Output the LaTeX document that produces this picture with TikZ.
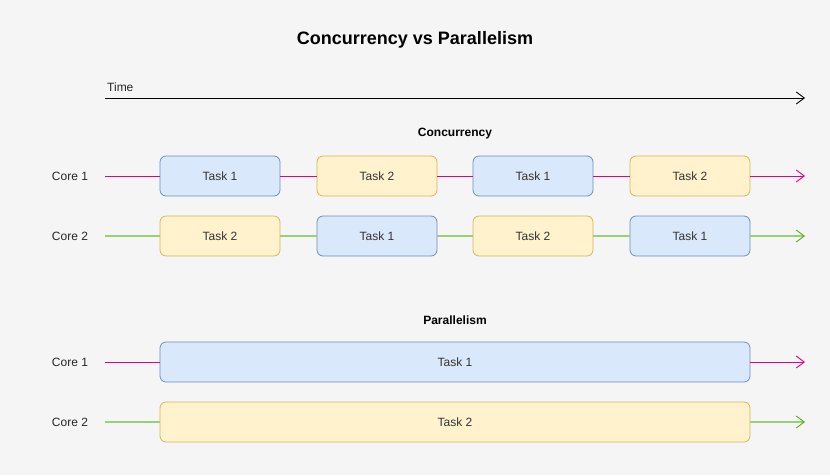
\documentclass[tikz,border=0pt]{standalone}
\usepackage{fontspec}
\setmainfont{Liberation Sans}
\usetikzlibrary{arrows.meta}
\definecolor{bfill}{HTML}{DAE8FC}\definecolor{bdraw}{HTML}{6C8EBF}
\definecolor{yfill}{HTML}{FFF2CC}\definecolor{ydraw}{HTML}{D6B656}
\definecolor{pinkl}{HTML}{E6007A}\definecolor{greenl}{HTML}{97D077}
\definecolor{greend}{HTML}{60A917}
\definecolor{bg}{HTML}{F5F5F5}
\begin{document}
\begin{tikzpicture}[x=1pt,y=-1pt,
 box/.style={rounded corners=6pt,minimum height=40pt,font=\fontsize{12}{14}\selectfont,text=black!80,line width=0.8pt},
 blue/.style={box,fill=bfill,draw=bdraw},
 yel/.style={box,fill=yfill,draw=ydraw},
 lbl/.style={font=\fontsize{12}{14}\selectfont,text=black!85},
 pl/.style={draw=pinkl,line width=0.8pt},
 gl/.style={draw=greenl,line width=1.5pt},
 tip/.style={-{Straight Barb[length=8pt,width=12pt,line width=0.9pt]}},
 gtip/.style={-{Straight Barb[length=8pt,width=12pt,line width=0.9pt,color=greend]}}]
\fill[bg] (0,0) rectangle (830,475);
\useasboundingbox (0,0) rectangle (830,475);
\node[font=\bfseries\fontsize{18}{21}\selectfont] (title) at (415,40) {Concurrency vs Parallelism};
\node[lbl,anchor=west,inner sep=0] (time) at (107,87) {Time};
\coordinate (t0) at (105,98); \coordinate (t1) at (805,98);
\draw[line width=0.8pt,tip] (t0) -- (t1);
\node[font=\bfseries\fontsize{12}{14}\selectfont] (conc) at (455,134) {Concurrency};
\node[font=\bfseries\fontsize{12}{14}\selectfont] (para) at (455,320) {Parallelism};
\node[lbl] (c1) at (70,176) {Core 1};
\node[lbl] (c2) at (70,236) {Core 2};
\coordinate (a0) at (105,176); \coordinate (a5) at (805,176);
\coordinate (b0) at (105,236); \coordinate (b5) at (805,236);
\node[blue,minimum width=120pt] (a1) at (220,176) {Task 1};
\node[yel,minimum width=120pt] (a2) at (377,176) {Task 2};
\node[blue,minimum width=120pt] (a3) at (533,176) {Task 1};
\node[yel,minimum width=120pt] (a4) at (690,176) {Task 2};
\node[yel,minimum width=120pt] (b1) at (220,236) {Task 2};
\node[blue,minimum width=120pt] (b2) at (377,236) {Task 1};
\node[yel,minimum width=120pt] (b3) at (533,236) {Task 2};
\node[blue,minimum width=120pt] (b4) at (690,236) {Task 1};
\draw[pl] (a0) -- (a1); \draw[pl] (a1) -- (a2); \draw[pl] (a2) -- (a3); \draw[pl] (a3) -- (a4);
\draw[pl,tip] (a4) -- (a5);
\draw[gl] (b0) -- (b1); \draw[gl] (b1) -- (b2); \draw[gl] (b2) -- (b3); \draw[gl] (b3) -- (b4);
\draw[gl,gtip] (b4) -- (b5);
\node[lbl] (p1) at (70,362) {Core 1};
\node[lbl] (p2) at (70,422) {Core 2};
\coordinate (pa0) at (105,362); \coordinate (pa2) at (805,362);
\coordinate (pb0) at (105,422); \coordinate (pb2) at (805,422);
\node[blue,minimum width=590pt] (pa1) at (455,362) {Task 1};
\node[yel,minimum width=590pt] (pb1) at (455,422) {Task 2};
\draw[pl] (pa0) -- (pa1); \draw[pl,tip] (pa1) -- (pa2);
\draw[gl] (pb0) -- (pb1); \draw[gl,gtip] (pb1) -- (pb2);
\end{tikzpicture}
\end{document}
